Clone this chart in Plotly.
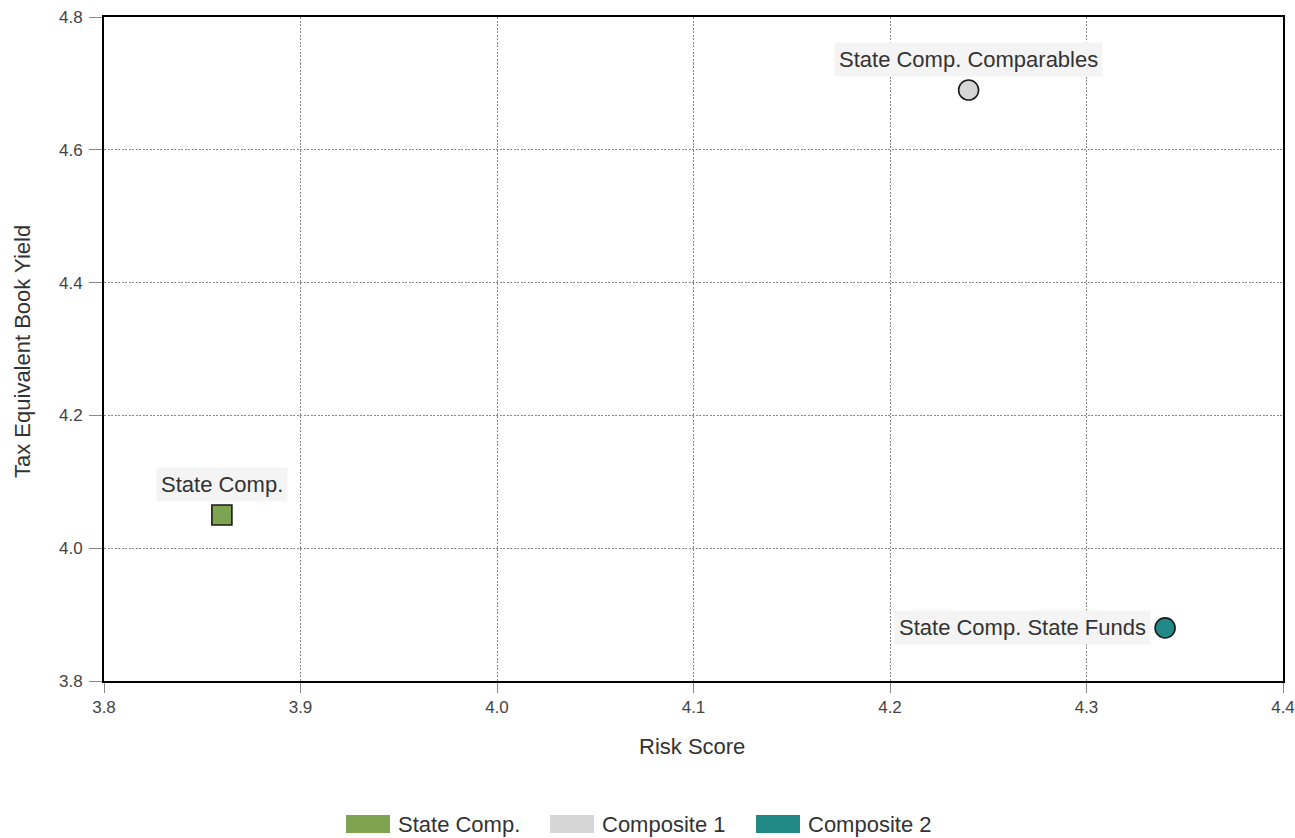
import plotly.graph_objects as go

names = ["State Comp.", "Composite 1", "Composite 2"]
labels = ["State Comp.", "State Comp. Comparables", "State Comp. State Funds"]
risk = [3.86, 4.24, 4.34]
yield_ = [4.05, 4.69, 3.88]
colors = ["#7ea451", "#d6d6d6", "#218987"]
symbols = ["square", "circle", "circle"]
x_ticks = [3.8, 3.9, 4.0, 4.1, 4.2, 4.3, 4.4]
y_ticks = [3.8, 4.0, 4.2, 4.4, 4.6, 4.8]

FONT = "Liberation Sans, Arial, sans-serif"
W, H = 1295, 838
L, R, T, B = 104, 12, 17, 157
PW, PH = W - L - R, H - T - B


def px(xp):  # page x -> paper
    return (xp - L) / PW


def py(yp):  # page y -> paper
    return (H - B - yp) / PH


fig = go.Figure()
for n, x, y, c, s in zip(names, risk, yield_, colors, symbols):
    fig.add_trace(go.Scatter(x=[x], y=[y], mode="markers", name=n,
                             marker=dict(color=c, symbol=s, size=20,
                                         line=dict(color="#1a1a1a", width=1.6)),
                             showlegend=False))

# point labels
for i, (lab, x, y) in enumerate(zip(labels, risk, yield_)):
    if i < 2:
        fig.add_annotation(x=x, y=y, text=lab, showarrow=False, yshift=31,
                           bgcolor="#f4f4f4", borderpad=4,
                           font=dict(family=FONT, size=22, color="#333333"))
    else:
        fig.add_annotation(x=x, y=y, text=lab, showarrow=False, xanchor="right",
                           xshift=-14, bgcolor="#f4f4f4", borderpad=4,
                           font=dict(family=FONT, size=22, color="#333333"))

# manual legend
leg_x = [346, 550, 756]
for n, c, lx in zip(names, colors, leg_x):
    fig.add_shape(type="rect", xref="paper", yref="paper",
                  x0=px(lx), x1=px(lx + 44), y0=py(833), y1=py(815),
                  fillcolor=c, line=dict(width=0))
    fig.add_annotation(xref="paper", yref="paper", x=px(lx + 50), y=py(824),
                       text=n, showarrow=False, xanchor="left", yanchor="middle",
                       font=dict(family=FONT, size=22, color="#333333"))

# axis titles
fig.add_annotation(xref="paper", yref="paper", x=px(692), y=py(747),
                   text="Risk Score", showarrow=False, xanchor="center", yanchor="middle",
                   font=dict(family=FONT, size=22, color="#333333"))
fig.add_annotation(xref="paper", yref="paper", x=px(22), y=py(352),
                   text="Tax Equivalent Book Yield", showarrow=False, textangle=-90,
                   xanchor="center", yanchor="middle",
                   font=dict(family=FONT, size=22, color="#333333"))

axis_common = dict(showgrid=True, gridcolor="#888888", griddash="2px,1.5px", gridwidth=1,
                   showline=True, linecolor="black", linewidth=2, mirror=True,
                   ticks="outside", tickcolor="#888888", tickwidth=1, automargin=False,
                   ticklabeloverflow="allow", zeroline=False,
                   tickfont=dict(family=FONT, size=17, color="#444444"))

fig.update_xaxes(range=[3.8, 4.4], tickvals=x_ticks, ticktext=[f"{v:.1f}" for v in x_ticks],
                 ticklen=10, **axis_common)
fig.update_yaxes(range=[3.8, 4.8], tickvals=y_ticks, ticktext=[f"{v:.1f}" for v in y_ticks],
                 ticklen=13, ticklabelstandoff=3, **axis_common)

fig.update_layout(width=W, height=H, margin=dict(l=L, r=R, t=T, b=B),
                  plot_bgcolor="white", paper_bgcolor="white", showlegend=False)
fig.write_html("out.html", config={"displayModeBar": False},
               post_script="document.body.style.margin='0';document.body.style.overflow='hidden';")
